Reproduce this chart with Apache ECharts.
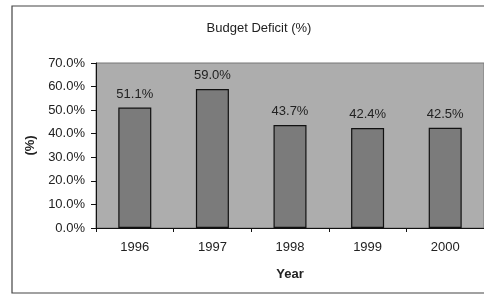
<!DOCTYPE html>
<html>
<head>
<meta charset="utf-8">
<script src="https://cdn.jsdelivr.net/npm/echarts@6/dist/echarts.min.js"></script>
<style>
  html, body { margin: 0; padding: 0; background: #fff; }
  #main { width: 484px; height: 295px; }
</style>
</head>
<body>
<div id="main"></div>
<script>
const years = ['1996', '1997', '1998', '1999', '2000'];
const deficit = [51.1, 59.0, 43.7, 42.4, 42.5];
const yTicks = [0, 10, 20, 30, 40, 50, 60, 70];

const chart = echarts.init(document.getElementById('main'));
const font = 'Liberation Sans, Arial, sans-serif';

chart.setOption({
    animation: false,
    backgroundColor: '#fff',
    textStyle: { fontFamily: font },
    graphic: [{
        type: 'rect',
        shape: { x: 12, y: 6, width: 480, height: 287 },
        style: { fill: 'none', stroke: '#444', lineWidth: 1.2 },
        z: 0
    }],
    title: {
        text: 'Budget Deficit (%)',
        left: 254, top: 17, textAlign: 'center',
        textStyle: { fontSize: 13, fontWeight: 'normal', color: '#222', fontFamily: font }
    },
    grid: {
        left: 96, top: 63, width: 390, height: 165,
        show: true, backgroundColor: '#adadad', borderColor: '#777', borderWidth: 1
    },
    xAxis: {
        type: 'category',
        data: years,
        name: 'Year',
        nameLocation: 'middle',
        nameGap: 40,
        nameTextStyle: { fontSize: 13, fontWeight: 'bold', color: '#222', fontFamily: font },
        axisLine: { lineStyle: { color: '#111', width: 1 } },
        axisTick: { show: true, length: 4, lineStyle: { color: '#111' } },
        axisLabel: { fontSize: 13, color: '#222', margin: 13, fontFamily: font }
    },
    yAxis: {
        type: 'value',
        min: yTicks[0],
        max: yTicks[yTicks.length - 1],
        interval: 10,
        name: '(%)',
        nameLocation: 'middle',
        nameGap: 55,
        nameRotate: 90,
        nameTextStyle: { fontSize: 13, fontWeight: 'bold', color: '#222', fontFamily: font },
        axisLine: { show: true, lineStyle: { color: '#111', width: 1 } },
        axisTick: { show: true, length: 5, lineStyle: { color: '#111' } },
        splitLine: { show: false },
        axisLabel: {
            fontSize: 13, color: '#222', margin: 11, fontFamily: font,
            formatter: v => v.toFixed(1) + '%'
        }
    },
    series: [{
        type: 'bar',
        data: deficit,
        barWidth: 33,
        itemStyle: { color: '#7b7b7b', borderColor: '#111', borderWidth: 1.2 },
        label: {
            show: true, position: 'top', distance: 7,
            fontSize: 13, color: '#222', fontFamily: font,
            formatter: p => p.value.toFixed(1) + '%'
        }
    }]
});
</script>
</body>
</html>
